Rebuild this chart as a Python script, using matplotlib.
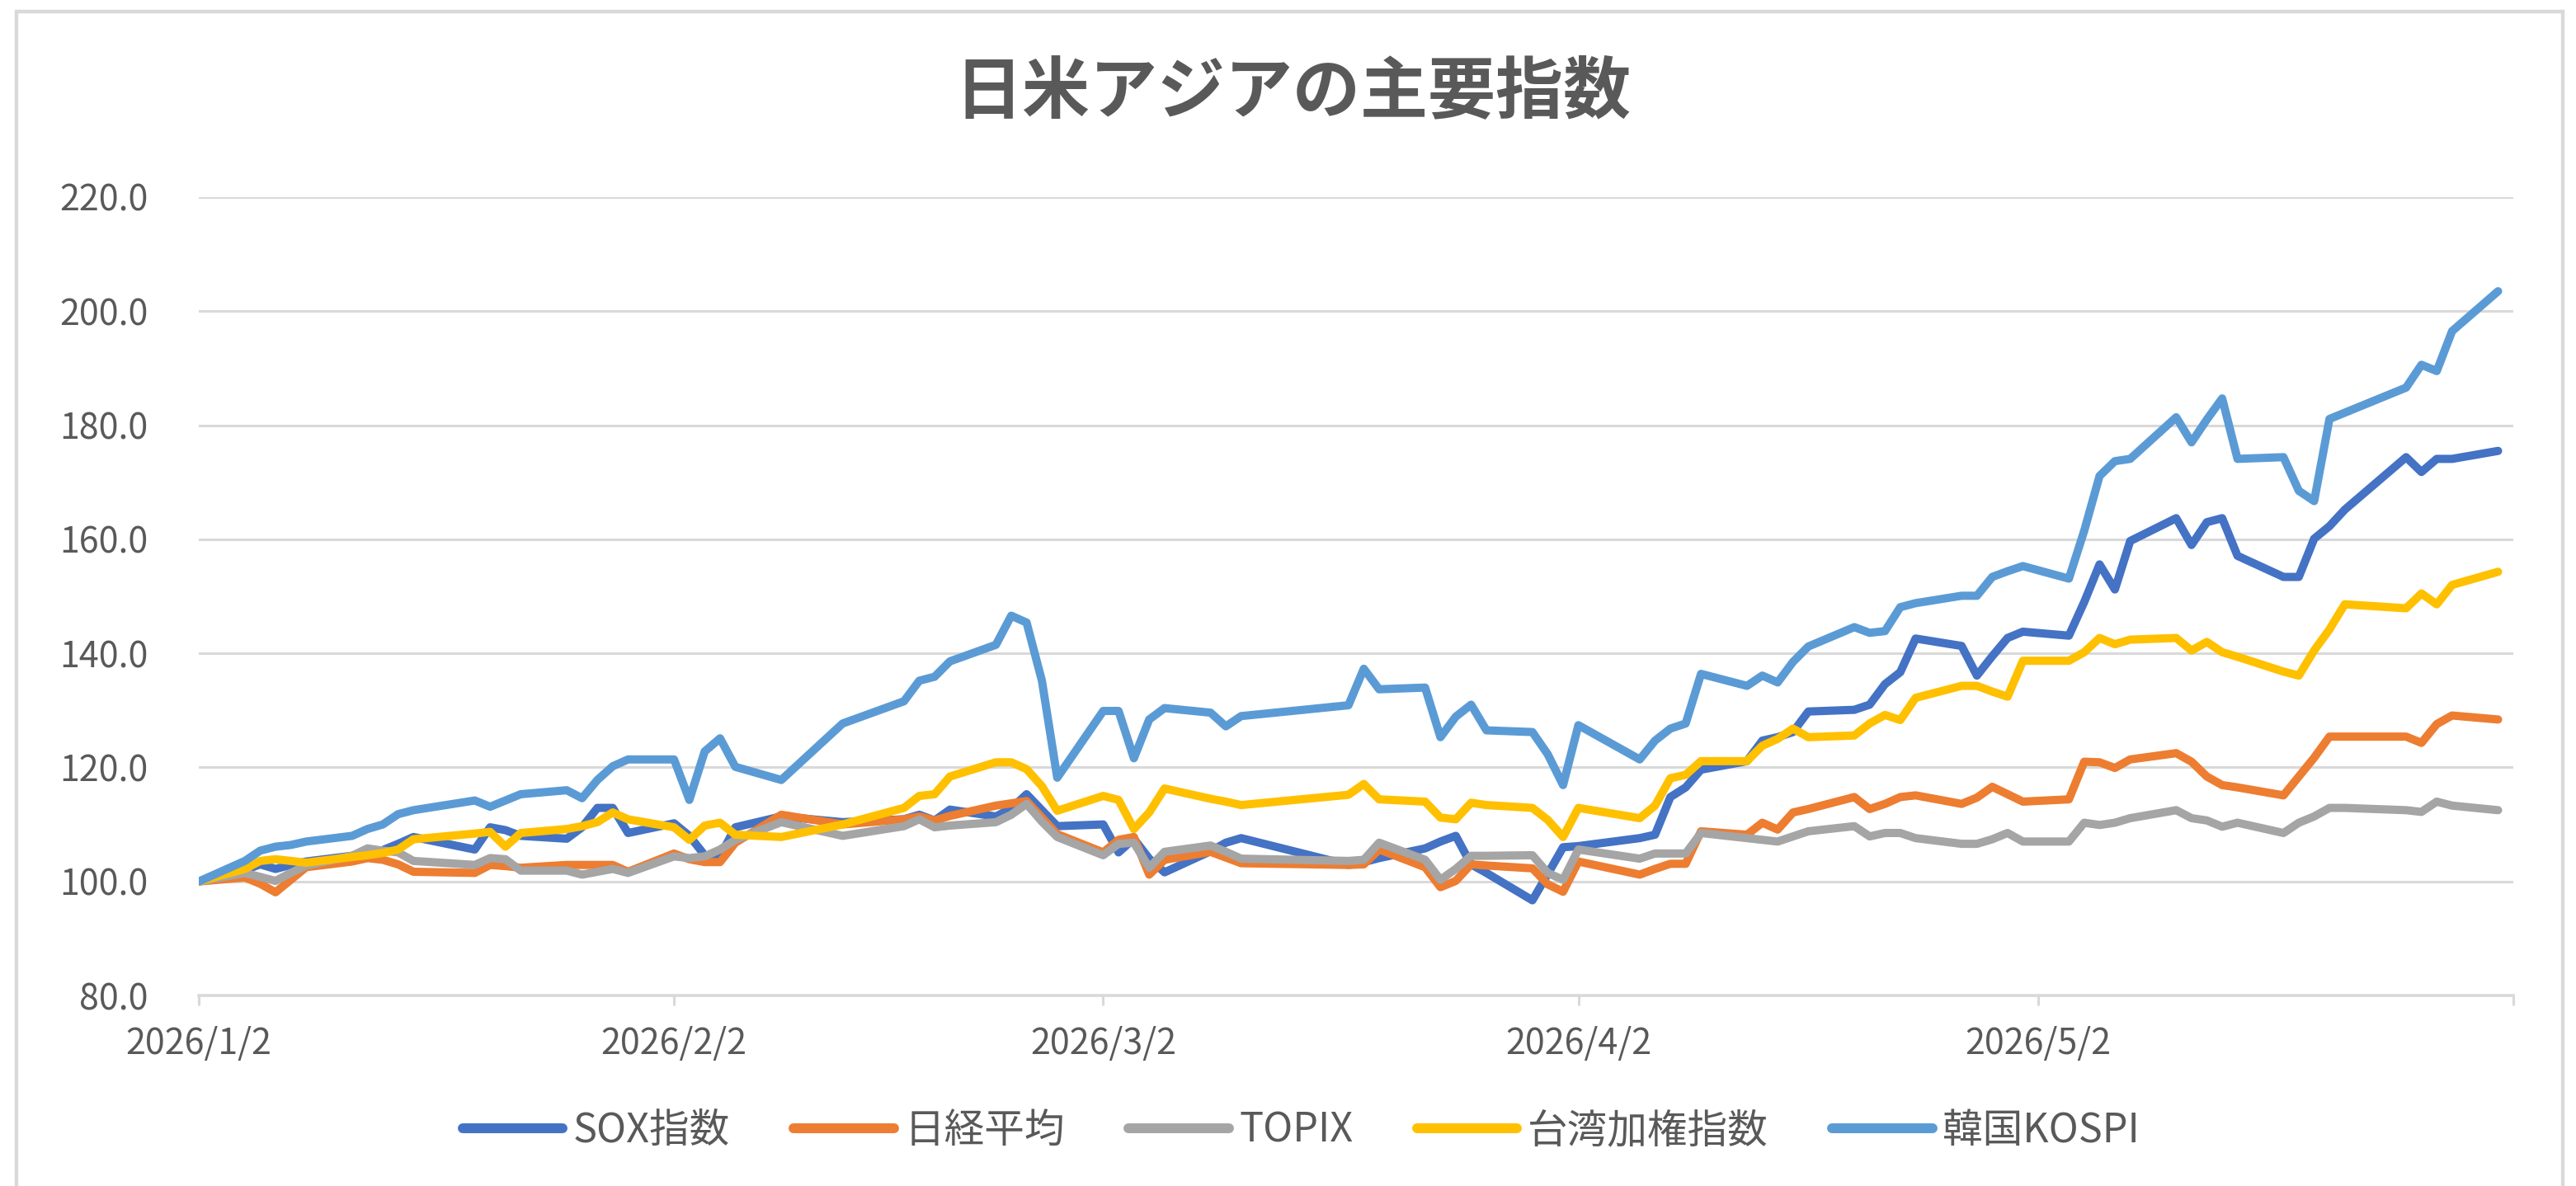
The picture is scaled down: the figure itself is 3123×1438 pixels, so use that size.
import matplotlib
matplotlib.use("Agg")
import matplotlib.pyplot as plt
from matplotlib.patches import Rectangle
import numpy as np

plt.rcParams["font.family"] = ["Noto Sans CJK JP", "DejaVu Sans"]

FIG_W, FIG_H = 3123 / 200, 1438 / 200
DPI = 200

TEXT_COLOR = "#595959"
GRID_COLOR = "#D9D9D9"

TITLE = "日米アジアの主要指数"

DATES = [
    "2026-01-02", "2026-01-05", "2026-01-06", "2026-01-07", "2026-01-08", "2026-01-09",
    "2026-01-12", "2026-01-13", "2026-01-14", "2026-01-15", "2026-01-16",
    "2026-01-20", "2026-01-21", "2026-01-22", "2026-01-23",
    "2026-01-26", "2026-01-27", "2026-01-28", "2026-01-29", "2026-01-30",
    "2026-02-02", "2026-02-03", "2026-02-04", "2026-02-05", "2026-02-06",
    "2026-02-09", "2026-02-13",
    "2026-02-17", "2026-02-18", "2026-02-19", "2026-02-20",
    "2026-02-23", "2026-02-24", "2026-02-25", "2026-02-26", "2026-02-27",
    "2026-03-02", "2026-03-03", "2026-03-04", "2026-03-05", "2026-03-06",
    "2026-03-09", "2026-03-10", "2026-03-11",
    "2026-03-18", "2026-03-19", "2026-03-20",
    "2026-03-23", "2026-03-24", "2026-03-25", "2026-03-26", "2026-03-27",
    "2026-03-30", "2026-03-31", "2026-04-01", "2026-04-02",
    "2026-04-06", "2026-04-07", "2026-04-08", "2026-04-09", "2026-04-10",
    "2026-04-13", "2026-04-14", "2026-04-15", "2026-04-16", "2026-04-17",
    "2026-04-20", "2026-04-21", "2026-04-22", "2026-04-23", "2026-04-24",
    "2026-04-27", "2026-04-28", "2026-04-29", "2026-04-30", "2026-05-01",
    "2026-05-04", "2026-05-05", "2026-05-06", "2026-05-07", "2026-05-08",
    "2026-05-11", "2026-05-12", "2026-05-13", "2026-05-14", "2026-05-15",
    "2026-05-18", "2026-05-19", "2026-05-20", "2026-05-21", "2026-05-22",
    "2026-05-26", "2026-05-27", "2026-05-28", "2026-05-29", "2026-06-01",
]

SOX = [
    100.0, 102.0, 103.0, 102.2, 102.9, 103.5,
    104.5, 105.0, 105.5, 106.6, 107.8,
    105.6, 109.5, 109.0, 108.0,
    107.5, 109.5, 112.9, 112.9, 108.5,
    110.2, 108.0, 104.6, 104.4, 109.5,
    111.4, 110.4,
    110.9, 111.7, 110.7, 112.6,
    111.4, 112.8, 115.3, 112.5, 109.7,
    110.0, 105.1, 107.5, 104.0, 101.6,
    105.3, 106.8, 107.6,
    102.9, 103.4, 104.1,
    105.8, 107.0, 108.0, 103.0, 101.5,
    96.7, 101.3, 106.0, 106.2,
    107.6, 108.2, 114.8, 116.5, 119.6,
    121.1, 124.7, 125.3, 126.2, 129.8,
    130.1, 131.0, 134.6, 136.7, 142.6,
    141.3, 136.1, 139.5, 142.7, 143.8,
    143.1, 149.0, 155.6, 151.2, 159.7,
    163.7, 159.0, 163.0, 163.7, 157.1,
    153.4, 153.4, 160.1, 162.3, 165.2,
    174.4, 171.8, 174.1, 174.1, 175.5,
]

NIKKEI = [
    100.0, 100.7, 99.6, 98.1, 100.3, 102.5,
    103.5, 104.1, 103.8, 103.0, 101.7,
    101.5, 102.9, 102.7, 102.4,
    102.9, 102.9, 102.9, 102.9, 101.7,
    104.9, 103.9, 103.4, 103.4, 106.8,
    111.7, 110.0,
    110.9, 111.4, 110.7, 111.5,
    113.3, 113.7, 114.1, 111.2, 108.3,
    105.1, 107.3, 107.8, 101.2, 103.8,
    105.2, 104.2, 103.2,
    102.9, 103.0, 105.6,
    102.5, 99.0, 100.1, 103.0, 102.8,
    102.3, 99.5, 98.2, 103.5,
    101.2, 102.2, 103.1, 103.1, 108.8,
    108.2, 110.3, 109.1, 112.1, 112.7,
    114.8, 112.7, 113.6, 114.8, 115.1,
    113.6, 114.7, 116.6, 115.3, 114.0,
    114.4, 121.0, 120.9, 119.9, 121.4,
    122.5, 121.0, 118.4, 116.9, 116.5,
    115.1, 118.4, 121.7, 125.4, 125.4,
    125.4, 124.3, 127.6, 129.1, 128.4,
]

TOPIX = [
    100.0, 101.5, 100.8, 100.1, 101.5, 102.8,
    104.5, 105.8, 105.4, 105.1, 103.6,
    102.9, 104.1, 103.9, 101.9,
    101.9, 101.2, 101.7, 102.2, 101.5,
    104.4, 104.1, 104.4, 105.6, 107.3,
    110.4, 108.0,
    109.7, 110.9, 109.5, 109.8,
    110.4, 111.7, 113.6, 110.5, 107.8,
    104.6, 106.6, 106.8, 102.4, 105.2,
    106.3, 105.2, 104.0,
    103.6, 103.8, 106.8,
    103.8, 100.3, 102.2, 104.5, 104.5,
    104.6, 101.5, 100.3, 105.6,
    104.0, 104.9, 104.9, 104.9, 108.5,
    107.6, 107.3, 107.0, 107.9, 108.8,
    109.7, 107.9, 108.5, 108.5, 107.6,
    106.6, 106.6, 107.4, 108.5, 107.0,
    107.0, 110.3, 109.9, 110.3, 111.1,
    112.5, 111.1, 110.7, 109.6, 110.3,
    108.5, 110.3, 111.4, 112.9, 112.9,
    112.5, 112.2, 114.0, 113.3, 112.5,
]

TAIEX = [
    100.0, 102.2, 103.6, 103.9, 103.6, 103.3,
    104.3, 104.6, 105.0, 105.6, 107.4,
    108.4, 108.7, 106.1, 108.5,
    109.2, 109.7, 110.4, 112.1, 110.9,
    109.5, 107.3, 109.8, 110.3, 108.2,
    107.8, 110.0,
    112.9, 115.0, 115.3, 118.4,
    120.9, 120.9, 119.7, 116.7, 112.4,
    115.0, 114.3, 109.2, 112.1, 116.3,
    114.5, 114.0, 113.4,
    115.2, 117.1, 114.4,
    114.0, 111.2, 110.9, 113.8, 113.4,
    112.9, 110.8, 107.8, 112.9,
    111.1, 113.3, 118.1, 118.7, 121.1,
    121.1, 123.8, 125.0, 126.8, 125.3,
    125.6, 127.7, 129.2, 128.3, 132.2,
    134.3, 134.3, 133.3, 132.4, 138.7,
    138.7, 140.2, 142.7, 141.6, 142.4,
    142.7, 140.5, 142.0, 140.2, 139.4,
    136.8, 136.1, 140.5, 144.2, 148.6,
    147.9, 150.5, 148.6, 152.0, 154.3,
]

KOSPI = [
    100.0, 103.6, 105.4, 106.1, 106.4, 107.0,
    108.0, 109.2, 110.0, 111.8, 112.5,
    114.2, 113.1, 114.2, 115.3,
    116.0, 114.6, 117.8, 120.2, 121.4,
    121.4, 114.3, 122.8, 125.1, 120.1,
    117.8, 127.7,
    131.6, 135.2, 135.9, 138.6,
    141.5, 146.6, 145.4, 135.2, 118.2,
    129.9, 129.9, 121.6, 128.4, 130.4,
    129.6, 127.2, 129.0,
    130.9, 137.3, 133.7,
    134.0, 125.3, 128.9, 131.0, 126.5,
    126.2, 122.3, 116.9, 127.4,
    121.4, 124.7, 126.8, 127.7, 136.4,
    134.3, 136.1, 134.9, 138.5, 141.2,
    144.6, 143.6, 143.9, 148.1, 148.8,
    150.1, 150.1, 153.4, 154.4, 155.3,
    153.1, 161.5, 171.1, 173.7, 174.1,
    181.4, 177.0, 181.0, 184.7, 174.1,
    174.4, 168.5, 166.7, 181.1, 182.2,
    186.6, 190.6, 189.5, 196.5, 203.5,
]

SERIES = [
    ("SOX指数", SOX, "#4472C4"),
    ("日経平均", NIKKEI, "#ED7D31"),
    ("TOPIX", TOPIX, "#A5A5A5"),
    ("台湾加権指数", TAIEX, "#FFC000"),
    ("韓国KOSPI", KOSPI, "#5B9BD5"),
]

X_TICKS = ["2026-01-02", "2026-02-02", "2026-03-02", "2026-04-02", "2026-05-02", "2026-06-02"]
X_TICK_LABELS = ["2026/1/2", "2026/2/2", "2026/3/2", "2026/4/2", "2026/5/2", ""]
Y_TICKS = [80, 100, 120, 140, 160, 180, 200, 220]

LINE_WIDTH = 3.6


def main():
    fig = plt.figure(figsize=(FIG_W, FIG_H), dpi=DPI, facecolor="white")
    ax = fig.add_axes([0.0772, 0.1606, 0.8985, 0.6732])

    dates = np.array(DATES, dtype="datetime64[D]")
    for name, values, color in SERIES:
        ax.plot(dates, values, color=color, linewidth=LINE_WIDTH, label=name,
                solid_joinstyle="round", solid_capstyle="round")

    ax.set_xlim(np.datetime64("2026-01-02"), np.datetime64("2026-06-02"))
    ax.set_ylim(80, 220)
    ax.set_yticks(Y_TICKS)
    ax.set_yticklabels([f"{v:.1f}" for v in Y_TICKS])
    ax.set_xticks(np.array(X_TICKS, dtype="datetime64[D]"))
    ax.set_xticklabels(X_TICK_LABELS)

    ax.grid(axis="y", color=GRID_COLOR, linewidth=1.1)
    ax.set_axisbelow(True)
    for side in ["top", "right", "left"]:
        ax.spines[side].set_visible(False)
    ax.spines["bottom"].set_color(GRID_COLOR)
    ax.spines["bottom"].set_linewidth(1.3)

    ax.tick_params(axis="y", length=0, pad=22, labelsize=15.5, labelcolor=TEXT_COLOR)
    ax.tick_params(axis="x", direction="out", length=4.3, width=1.1, color=GRID_COLOR,
                   pad=9, labelsize=15.5, labelcolor=TEXT_COLOR)

    fig.text(0.502, 0.922, TITLE, ha="center", va="center", fontsize=29.5,
             fontweight="bold", color=TEXT_COLOR)

    handles = [plt.Line2D([], [], color=c, linewidth=4.3, solid_capstyle="round")
               for _, _, c in SERIES]
    fig.legend(
        handles, [s[0] for s in SERIES], loc="center", bbox_to_anchor=(0.505, 0.0466),
        ncol=5, frameon=False, fontsize=17.5, handlelength=2.5, handletextpad=0.25,
        columnspacing=1.6, labelcolor=TEXT_COLOR,
    )

    fig.patches.append(Rectangle((0.0064, -0.05), 0.9885, 1.04, fill=False,
                                 edgecolor=GRID_COLOR, linewidth=1.6,
                                 transform=fig.transFigure))

    fig.savefig("out.png", dpi=DPI, facecolor="white")
    plt.close(fig)


if __name__ == "__main__":
    main()
